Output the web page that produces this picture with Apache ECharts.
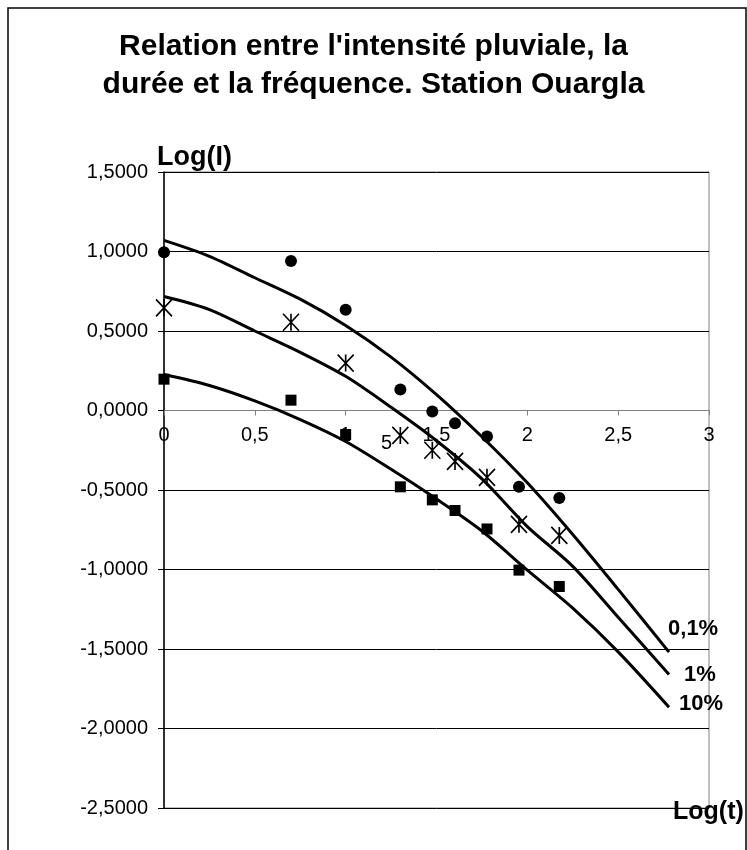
<!DOCTYPE html>
<html>
<head>
<meta charset="utf-8">
<script src="https://cdn.jsdelivr.net/npm/echarts@6/dist/echarts.min.js"></script>
<style>
html,body{margin:0;padding:0;background:#fff;}
#chart{width:747px;height:850px;}
</style>
</head>
<body>
<div id="chart"></div>
<script>
// Observed points: Log(t) (t in minutes: 1,5,10,20,30,40,60,90,150)
var logT = [0, 0.699, 1, 1.301, 1.477, 1.602, 1.778, 1.954, 2.176];
var obs01 = [0.995, 0.94, 0.633, 0.132, -0.006, -0.08, -0.164, -0.48, -0.55];
var obs1  = [0.646, 0.555, 0.298, -0.157, -0.25, -0.32, -0.42, -0.716, -0.786];
var obs10 = [0.197, 0.065, -0.151, -0.48, -0.562, -0.629, -0.745, -1.004, -1.107];

// Fitted curves
var curveX = [0, 0.25, 0.5, 0.75, 1, 1.25, 1.5, 1.75, 2, 2.25, 2.5, 2.78];
var fit01 = [1.07, 0.97, 0.835, 0.70, 0.535, 0.336, 0.10, -0.165, -0.455, -0.78, -1.125, -1.52];
var fit1  = [0.717, 0.635, 0.50, 0.366, 0.215, 0.02, -0.19, -0.43, -0.73, -0.98, -1.30, -1.66];
var fit10 = [0.226, 0.157, 0.06, -0.057, -0.195, -0.37, -0.557, -0.758, -1.004, -1.243, -1.518, -1.866];

var curveNames = ['0,1%', '1%', '10%'];

function pairs(xs, ys) { return xs.map(function (x, i) { return [x, ys[i]]; }); }

var FONT = '"Liberation Sans", Arial, sans-serif';
var chart = echarts.init(document.getElementById('chart'));

var GRID = { left: 164, top: 172, width: 545, height: 636 };
var Y_MIN = -2.5, Y_MAX = 1.5;
// distance of the y=0 line above the bottom of the plot
var zeroOffset = -GRID.height * (0 - Y_MIN) / (Y_MAX - Y_MIN);

function curve(name, ys, off) {
  return {
    type: 'line', name: name, data: pairs(curveX, ys), smooth: 0.3,
    showSymbol: false, symbol: 'none', z: 8,
    lineStyle: { color: '#000', width: 3 },
    endLabel: {
      show: true, formatter: name, distance: 0, offset: off,
      color: '#000', fontFamily: FONT, fontWeight: 'bold', fontSize: 22
    },
    emphasis: { disabled: true }, silent: true
  };
}
function pts(name, ys, symbol, size, style) {
  style.opacity = 1;
  return {
    type: 'scatter', name: name, data: pairs(logT, ys), symbol: symbol,
    symbolSize: size, itemStyle: style, z: 10, silent: true,
    emphasis: { disabled: true }
  };
}

chart.setOption({
  animation: false,
  backgroundColor: '#fff',
  title: {
    text: "Relation entre l'intensité pluviale, la\ndurée et la fréquence. Station Ouargla",
    left: 'center', top: 23,
    textStyle: { fontFamily: FONT, fontWeight: 'bold', fontSize: 30, lineHeight: 38, color: '#000' }
  },
  grid: { left: GRID.left, top: GRID.top, width: GRID.width, height: GRID.height, show: true, borderColor: '#808080', borderWidth: 1, backgroundColor: '#fff' },
  xAxis: {
    type: 'value', min: 0, max: 3, interval: 0.5, offset: zeroOffset, z: 0,
    axisLine: { show: true, onZero: false, lineStyle: { color: '#808080', width: 1 } },
    axisTick: { show: true, length: 5, lineStyle: { color: '#808080' } },
    axisLabel: { color: '#000', fontFamily: FONT, fontSize: 20, margin: 15,
      formatter: function (v) { return String(v).replace('.', ','); } },
    splitLine: { show: false }
  },
  yAxis: {
    type: 'value', min: Y_MIN, max: Y_MAX, interval: 0.5, z: 0,
    axisLine: { show: true, onZero: false, lineStyle: { color: '#000', width: 1.5 } },
    axisTick: { show: true, length: 6, lineStyle: { color: '#000' } },
    axisLabel: { color: '#000', fontFamily: FONT, fontSize: 20, margin: 16,
      formatter: function (v) { return v.toFixed(4).replace('.', ','); } },
    splitLine: { show: true, lineStyle: { color: '#000', width: 1 } }
  },
  graphic: [
    { type: 'rect', shape: { x: 8, y: 8, width: 738, height: 860 }, style: { fill: 'none', stroke: '#000', lineWidth: 1.5 }, z: 100, silent: true },
    { type: 'text', left: 157, top: 144, style: { text: 'Log(I)', fontFamily: FONT, fontWeight: 'bold', fontSize: 27, fill: '#000' } },
    { type: 'text', left: 673, top: 800, style: { text: 'Log(t)', fontFamily: FONT, fontWeight: 'bold', fontSize: 25, fill: '#000' } },
    { type: 'text', left: 381, top: 433, z: 1, style: { text: '5', fontFamily: FONT, fontSize: 20, fill: '#000' } }
  ],
  series: [
    curve(curveNames[0], fit01, [-1, -23]),
    curve(curveNames[1], fit1, [15, 0]),
    curve(curveNames[2], fit10, [10, -3]),
    pts('obs01', obs01, 'circle', 12, { color: '#000' }),
    pts('obs1', obs1, 'path://M0,0L16,16M16,0L0,16M8,0L8,16', [16, 17], { color: 'rgba(0,0,0,0)', borderColor: '#000', borderWidth: 1.7 }),
    pts('obs10', obs10, 'rect', 11, { color: '#000' })
  ]
});
</script>
</body>
</html>
